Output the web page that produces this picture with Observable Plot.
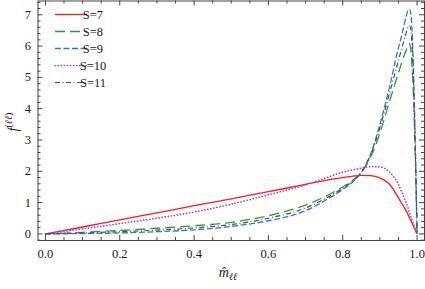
<!DOCTYPE html>
<html>
<head>
<meta charset="utf-8">
<script src="https://cdn.jsdelivr.net/npm/d3@7"></script>
<script src="https://cdn.jsdelivr.net/npm/@observablehq/plot@0.6"></script>
<style>
  body { margin: 0; background: #fff; }
  #chart { width: 425px; height: 289px; }
  svg text { font-family: "Liberation Serif", "Times New Roman", serif; }
</style>
</head>
<body>
<div id="chart"></div>
<script>
// x samples (m̂_ℓℓ)
const mHat = [0, 0.1, 0.2, 0.3, 0.4, 0.5, 0.6, 0.7, 0.75, 0.8, 0.825, 0.85, 0.875, 0.9, 0.925, 0.95, 0.96, 0.97, 0.975, 0.98, 0.985, 0.99, 0.995, 1.0];

// series values
const fS7  = [0, 0.22, 0.45, 0.67, 0.90, 1.12, 1.35, 1.58, 1.70, 1.80, 1.84, 1.87, 1.86, 1.79, 1.60, 1.15, 0.95, 0.75, 0.63, 0.50, 0.38, 0.25, 0.12, 0];
const fS8  = [0, 0.05, 0.11, 0.18, 0.26, 0.37, 0.58, 0.92, 1.18, 1.50, 1.70, 1.97, 2.45, 3.22, 4.20, 5.15, 5.52, 5.85, 6.00, 6.08, 5.60, 4.50, 2.60, 0];
const fS9  = [0, 0.01, 0.03, 0.07, 0.13, 0.24, 0.42, 0.74, 1.05, 1.42, 1.64, 1.97, 2.55, 3.50, 4.65, 5.95, 6.40, 6.92, 7.12, 7.18, 6.80, 5.40, 3.00, 0];
const fS10 = [0, 0.16, 0.33, 0.50, 0.70, 0.95, 1.25, 1.57, 1.77, 1.97, 2.04, 2.10, 2.15, 2.14, 1.98, 1.58, 1.30, 1.02, 0.86, 0.65, 0.49, 0.33, 0.16, 0];
const fS11 = [0, 0.03, 0.07, 0.12, 0.19, 0.30, 0.50, 0.83, 1.11, 1.46, 1.67, 1.97, 2.52, 3.40, 4.45, 5.55, 5.98, 6.40, 6.58, 6.65, 6.30, 5.00, 2.80, 0];

const seriesNames = ["S=7", "S=8", "S=9", "S=10", "S=11"];
const seriesValues = [fS7, fS8, fS9, fS10, fS11];

// ticks
const xMajorTicks = [0, 0.2, 0.4, 0.6, 0.8, 1.0];
const xTickLabels = ["0.0", "0.2", "0.4", "0.6", "0.8", "1.0"];
const xMinorTicks = d3.range(0, 1.0001, 0.05).filter(v => Math.abs(v * 5 - Math.round(v * 5)) > 1e-6);
const yMajorTicks = [0, 1, 2, 3, 4, 5, 6, 7];
const yMinorTicks = d3.range(-0.2, 7.41, 0.2).filter(v => Math.abs(v - Math.round(v)) > 1e-6);

// styles
const styles = [
  {color: "#ff1a1a", dash: null,          width: 1.3, cap: "butt"},
  {color: "#2e9b2e", dash: "10,5",        width: 1.3, cap: "butt"},
  {color: "#3276d4", dash: "6,2.5",       width: 1.3, cap: "butt"},
  {color: "#9b44e0", dash: "0.1,3",       width: 1.7, cap: "round"},
  {color: "#4d4d4d", dash: "5,2.5,1,2.5", width: 1.2, cap: "butt"}
];

const FONT = '"Liberation Serif", "Times New Roman", serif';
const W = 425, H = 289, mL = 37.5, mR = 1, mT = 0.5, mB = 49;
const fw = W - mL - mR, fh = H - mT - mB;
const frameColor = "#444";

const lineMarks = seriesNames.map((name, i) => {
  const rows = mHat.map((x, j) => ({x, y: seriesValues[i][j], name}));
  const st = styles[i];
  return Plot.line(rows, {x: "x", y: "y", stroke: st.color, strokeWidth: st.width,
    strokeDasharray: st.dash, strokeLinecap: st.cap, curve: "monotone-x"});
});

const plot = Plot.plot({
  width: W, height: H,
  marginLeft: mL, marginRight: mR, marginTop: mT, marginBottom: mB,
  x: {domain: [-0.02, 1.02]},
  y: {domain: [-0.211, 7.44]},
  style: {fontFamily: FONT, fontSize: "12px", color: "#1a1a1a", background: "white"},
  marks: [
    ...lineMarks,
    Plot.tickX(xMajorTicks, {x: d => d, insetTop: fh - 5, stroke: frameColor}),
    Plot.tickX(xMajorTicks, {x: d => d, insetBottom: fh - 5, stroke: frameColor}),
    Plot.tickX(xMinorTicks, {x: d => d, insetTop: fh - 3, stroke: frameColor}),
    Plot.tickX(xMinorTicks, {x: d => d, insetBottom: fh - 3, stroke: frameColor}),
    Plot.tickY(yMajorTicks, {y: d => d, insetRight: fw - 5, stroke: frameColor}),
    Plot.tickY(yMajorTicks, {y: d => d, insetLeft: fw - 5, stroke: frameColor}),
    Plot.tickY(yMinorTicks, {y: d => d, insetRight: fw - 3, stroke: frameColor}),
    Plot.tickY(yMinorTicks, {y: d => d, insetLeft: fw - 3, stroke: frameColor}),
    Plot.axisX({ticks: xMajorTicks, tickSize: 0, tickPadding: 9, label: null,
      tickFormat: (d) => xTickLabels[xMajorTicks.indexOf(d)], fontSize: 12.5}),
    Plot.axisY({ticks: yMajorTicks, tickSize: 0, tickPadding: 7, label: null, fontSize: 12.5}),
    Plot.frame({stroke: frameColor})
  ]
});

const svg = d3.select(plot);

// legend
const leg = svg.append("g").attr("font-family", FONT).attr("font-size", 12.5).attr("fill", "#1a1a1a");
seriesNames.forEach((name, i) => {
  const y = 14.5 + 17 * i;
  const st = styles[i];
  leg.append("line").attr("x1", 55).attr("x2", 87).attr("y1", y).attr("y2", y)
    .attr("stroke", st.color).attr("stroke-width", st.width)
    .attr("stroke-dasharray", st.dash).attr("stroke-linecap", st.cap);
  leg.append("text").attr("x", 93).attr("y", y).attr("dy", "0.35em").text(name);
});

// axis labels
const xl = svg.append("text").attr("x", 228).attr("y", 277).attr("text-anchor", "middle")
  .attr("font-family", FONT).attr("font-size", 14).attr("fill", "#1a1a1a").attr("font-style", "italic");
xl.append("tspan").text("m\u0302");
xl.append("tspan").attr("font-size", 10).attr("dy", 3).text("\u2113\u2113");

const yl = svg.append("text").attr("transform", "translate(18,122) rotate(-90)").attr("text-anchor", "middle")
  .attr("font-family", FONT).attr("font-size", 14).attr("fill", "#1a1a1a");
yl.append("tspan").attr("font-style", "italic").text("f");
yl.append("tspan").attr("font-size", 10).attr("dy", -6).text("(");
yl.append("tspan").attr("font-size", 10).attr("font-style", "italic").text("\u2113\u2113");
yl.append("tspan").attr("font-size", 10).text(")");

document.getElementById("chart").appendChild(plot);
</script>
</body>
</html>
